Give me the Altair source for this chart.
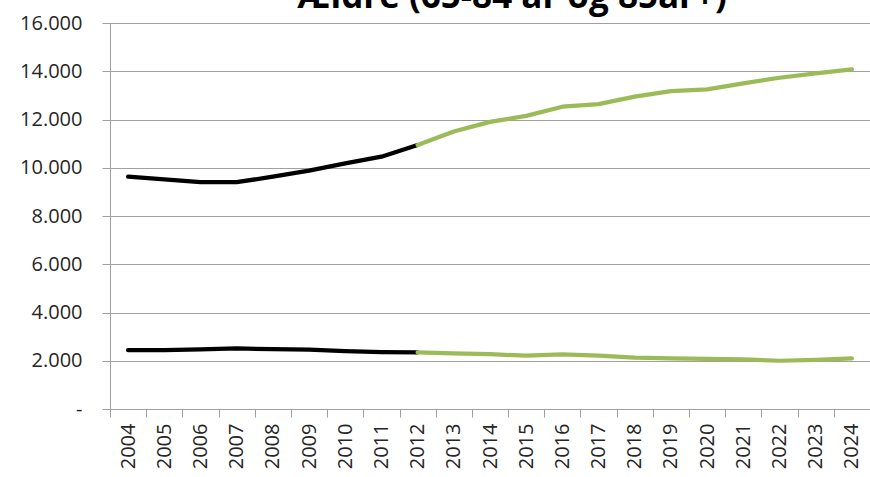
import altair as alt
import pandas as pd

years = ["2004", "2005", "2006", "2007", "2008", "2009", "2010", "2011", "2012",
         "2013", "2014", "2015", "2016", "2017", "2018", "2019", "2020", "2021",
         "2022", "2023", "2024"]
aged_65_84 = [9630, 9520, 9400, 9400, 9630, 9880, 10180, 10460, 10940,
              11500, 11900, 12150, 12530, 12640, 12950, 13180, 13250, 13500,
              13730, 13910, 14080]
aged_85_plus = [2440, 2445, 2470, 2510, 2480, 2460, 2400, 2360, 2350,
                2310, 2270, 2210, 2260, 2210, 2130, 2100, 2080, 2060,
                2000, 2040, 2100]
last_actual_year = "2012"
y_ticks = [0, 2000, 4000, 6000, 8000, 10000, 12000, 14000, 16000]
title_text = ["Ældre (65-84 år og 85år+)"]

rows = []
for name, vals in (("65-84 år", aged_65_84), ("85 år+", aged_85_plus)):
    for yr, v in zip(years, vals):
        if yr <= last_actual_year:
            rows.append({"year": yr, "value": v, "series": name, "segment": "faktisk"})
        if yr >= last_actual_year:
            rows.append({"year": yr, "value": v, "series": name, "segment": "prognose"})
df = pd.DataFrame(rows)
title_df = pd.DataFrame({"t": title_text})

FONT = "Open Sans"
LABEL_COLOR = "#262626"
GRID = "#A0A0A0"

lines = alt.Chart(df).mark_line(strokeWidth=4.25, strokeCap="round", strokeJoin="round").encode(
    x=alt.X(
        "year:O",
        sort=years,
        bandPosition=0.5,
        scale=alt.Scale(type="band", paddingInner=0, paddingOuter=0),
        axis=alt.Axis(
            title=None,
            tickBand="extent",
            labelAngle=-90,
            tickSize=8,
            tickColor=GRID,
            domainColor=GRID,
            labelPadding=6,
            labelFont=FONT,
            labelFontSize=20,
            labelColor=LABEL_COLOR,
            grid=False,
        ),
    ),
    y=alt.Y(
        "value:Q",
        scale=alt.Scale(domain=[0, 16000], nice=False),
        axis=alt.Axis(
            title=None,
            values=y_ticks,
            grid=True,
            gridColor=GRID,
            gridWidth=1,
            tickSize=8,
            tickColor=GRID,
            domainColor=GRID,
            labelPadding=20,
            labelFont=FONT,
            labelFontSize=20,
            labelColor=LABEL_COLOR,
            labelExpr="datum.value == 0 ? '-\u00a0\u00a0\u00a0' : replace(format(datum.value, ',.0f'), ',', '.')",
        ),
    ),
    color=alt.Color(
        "segment:N",
        scale=alt.Scale(domain=["faktisk", "prognose"], range=["#000000", "#9BBB59"]),
        legend=None,
    ),
    detail="series:N",
    order=alt.Order("year:O"),
)

title = alt.Chart(title_df).mark_text(
    font=FONT,
    fontSize=35,
    fontWeight="bold",
    color="#000000",
    align="center",
    baseline="alphabetic",
).encode(
    text="t:N",
    x=alt.value(402),
    y=alt.value(-15),
)

chart = alt.layer(lines, title).properties(
    width=760,
    height=386,
    autosize=alt.AutoSizeParams(type="none"),
    padding={"left": 110, "top": 23, "right": 0, "bottom": 68},
).configure_view(stroke=None).configure(background="white")

chart.save("out.html", embed_options={"renderer": "svg", "actions": False})
